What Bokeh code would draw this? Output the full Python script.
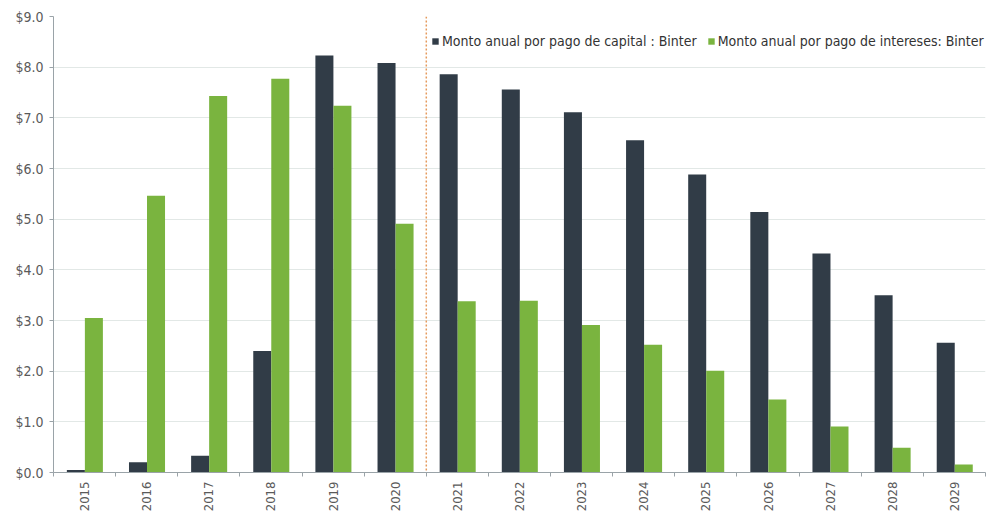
import numpy as np
from bokeh.plotting import figure
from bokeh.models import (ColumnDataSource, FixedTicker, NumeralTickFormatter, Span,
                          Legend, LegendItem, Range1d)
from bokeh.transform import dodge
from bokeh.embed import file_html
from bokeh.resources import INLINE

years = ["2015", "2016", "2017", "2018", "2019", "2020", "2021", "2022",
         "2023", "2024", "2025", "2026", "2027", "2028", "2029"]
capital = [0.05, 0.20, 0.33, 2.40, 8.23, 8.08, 7.86, 7.56, 7.11, 6.56, 5.88, 5.14, 4.32, 3.50, 2.56]
intereses = [3.05, 5.46, 7.43, 7.77, 7.24, 4.91, 3.38, 3.39, 2.91, 2.52, 2.01, 1.44, 0.91, 0.49, 0.16]
y_ticks = [0, 1, 2, 3, 4, 5, 6, 7, 8, 9]
split_year_index = 6  # dotted line between 2020 and 2021

FONT = "DejaVu Sans Condensed, Liberation Sans Narrow, Arial Narrow, sans-serif"
DARK = "#313c47"
GREEN = "#7ab43f"
TEXT = "#5a5a5a"

idx = np.arange(len(years))
src = ColumnDataSource(dict(x=idx + 0.5, year=years, capital=capital, intereses=intereses))

p = figure(width=995, height=514, output_backend="svg", toolbar_location=None,
           x_range=Range1d(0, len(years)), y_range=Range1d(0, 9),
           min_border_left=53, min_border_right=10, min_border_top=16, min_border_bottom=41)
p.outline_line_color = None
p.background_fill_color = "white"
p.border_fill_color = "white"

r1 = p.vbar(x=dodge("x", -0.14), top="capital", width=0.29, source=src,
            fill_color=DARK, line_color=None)
r2 = p.vbar(x=dodge("x", 0.15), top="intereses", width=0.29, source=src,
            fill_color=GREEN, line_color=None)

p.add_layout(Span(location=split_year_index, dimension="height", line_color="#e59a5c",
                  line_dash="2 2", line_width=1.5))

# x axis
xt = FixedTicker(ticks=list(idx + 0.5), minor_ticks=list(range(len(years) + 1)))
p.xaxis.ticker = xt
p.xaxis.major_label_overrides = {float(i + 0.5): y for i, y in enumerate(years)}
p.xaxis.major_label_orientation = np.pi / 2
p.xaxis.major_tick_line_color = None
p.xaxis.minor_tick_out = 4
p.xaxis.minor_tick_in = 0
p.xaxis.minor_tick_line_color = "#9aa3a8"
p.xaxis.axis_line_color = "#9aa3a8"
p.xaxis.major_label_text_font = FONT
p.xaxis.major_label_text_font_size = "13px"
p.xaxis.major_label_text_color = TEXT
p.xaxis.major_label_standoff = 3
p.xgrid.grid_line_color = None

# y axis
p.yaxis.ticker = FixedTicker(ticks=y_ticks)
p.yaxis.formatter = NumeralTickFormatter(format="$0.0")
p.yaxis.axis_line_color = "#9aa3a8"
p.yaxis.major_tick_line_color = "#9aa3a8"
p.yaxis.major_tick_out = 4
p.yaxis.major_tick_in = 0
p.yaxis.minor_tick_line_color = None
p.yaxis.major_label_text_font = FONT
p.yaxis.major_label_text_font_size = "14px"
p.yaxis.major_label_text_color = TEXT
p.yaxis.major_label_standoff = 6
p.ygrid.grid_line_color = "#e2e8e6"

legend = Legend(items=[
    LegendItem(label="Monto anual por pago de capital : Binter", renderers=[r1]),
    LegendItem(label="Monto anual por pago de intereses: Binter", renderers=[r2]),
], orientation="horizontal", location=(378, 423))
legend.label_text_font = FONT
legend.label_text_font_size = "14px"
legend.label_text_color = "#333333"
legend.glyph_width = 8
legend.glyph_height = 8
legend.label_standoff = 3
legend.spacing = 10
legend.padding = 2
legend.margin = 0
legend.border_line_color = None
legend.background_fill_alpha = 1
p.add_layout(legend)

open("out.html", "w").write(file_html(p, INLINE))
